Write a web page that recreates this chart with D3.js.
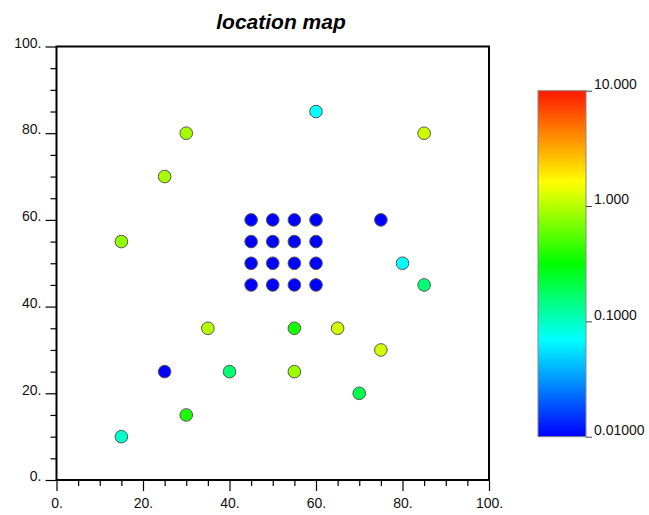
<!DOCTYPE html>
<html><head><meta charset="utf-8">
<script src="https://cdn.jsdelivr.net/npm/d3@7"></script>
<style>body{margin:0;background:#fff}svg{display:block}text{font-family:"Liberation Sans",Arial,sans-serif}</style>
</head><body><svg id="c" width="649" height="515"></svg>
<script>
// data
const xs = [60,30,85,25,15, 45,50,55,60,45,50,55,60,45,50,55,60,45,50,55,60, 75,80,85,35,55,65,75,25,40,55,70,30,15];
const ys = [85,80,80,70,55, 60,60,60,60,55,55,55,55,50,50,50,50,45,45,45,45, 60,50,45,35,35,35,30,25,25,25,20,15,10];
const vals = [0.07,0.9,1.15,0.9,0.8, 0.01,0.01,0.01,0.01,0.01,0.01,0.01,0.01,0.01,0.01,0.01,0.01,0.01,0.01,0.01,0.01,
              0.01,0.07,0.16,1.0,0.36,1.2,1.2,0.01,0.16,0.85,0.2,0.38,0.095];
const axisTicks = [0,20,40,60,80,100];
const axisTickLabels = ["0.","20.","40.","60.","80.","100."];
const minorTicks = [5,10,15,25,30,35,45,50,55,65,70,75,85,90,95];
const cbTicks = [10,1,0.1,0.01];
const cbTickLabels = ["10.000","1.000","0.1000","0.01000"];
const titleText = "location map";

const svg = d3.select("#c");
const x = d3.scaleLinear().domain([0,100]).range([56.5,489]);
const y = d3.scaleLinear().domain([0,100]).range([480,46.5]);
const cScale = d3.scaleLog().domain([0.01,10]).range([436.7,90.7]);
const frac = d3.scaleLog().domain([0.01,10]).range([0,1]);
const ramp = d3.scaleLinear().domain([0,0.28,0.5,0.735,1])
  .range(["#0000ff","#00ffff","#00ff00","#ffff00","#ff1800"]).interpolate(d3.interpolateRgb);
const color = v => ramp(frac(v));

// title
svg.append("text").attr("x",281).attr("y",29).attr("text-anchor","middle")
  .style("font-size","21px").style("font-weight","bold").style("font-style","italic").text(titleText);

// plot frame
svg.append("rect").attr("x",x(0)).attr("y",y(100)).attr("width",x(100)-x(0)).attr("height",y(0)-y(100))
  .attr("fill","none").attr("stroke","#000").attr("stroke-width",2);

// axes
const fmt = d => axisTickLabels[axisTicks.indexOf(d)];
const gx = svg.append("g").attr("transform",`translate(0,${y(0)})`)
  .call(d3.axisBottom(x).tickValues(axisTicks).tickFormat(fmt).tickSize(11).tickPadding(7));
const gxm = svg.append("g").attr("transform",`translate(0,${y(0)})`)
  .call(d3.axisBottom(x).tickValues(minorTicks).tickFormat("").tickSize(6));
const gy = svg.append("g").attr("transform",`translate(${x(0)},0)`)
  .call(d3.axisLeft(y).tickValues(axisTicks).tickFormat(fmt).tickSize(11).tickPadding(4));
const gym = svg.append("g").attr("transform",`translate(${x(0)},0)`)
  .call(d3.axisLeft(y).tickValues(minorTicks).tickFormat("").tickSize(6));
[gx,gxm,gy,gym].forEach(g=>{g.select(".domain").remove();g.selectAll("line").attr("stroke","#000").attr("stroke-width",1.2);});
gx.selectAll("text").style("font-size","14px").attr("fill","#111");
gy.selectAll("text").style("font-size","14px").attr("fill","#111").attr("dy","0.05em");

// points
svg.append("g").selectAll("circle").data(vals).join("circle")
  .attr("cx",(d,i)=>x(xs[i])).attr("cy",(d,i)=>y(ys[i])).attr("r",6.3)
  .attr("fill",d=>color(d)).attr("stroke","#555").attr("stroke-width",1);

// colorbar
const defs = svg.append("defs");
const grad = defs.append("linearGradient").attr("id","cb").attr("x1",0).attr("y1",1).attr("x2",0).attr("y2",0);
d3.range(0,1.0001,0.02).forEach(t=>grad.append("stop").attr("offset",t).attr("stop-color",ramp(t)));
const cbx = 538, cbw = 48;
svg.append("rect").attr("x",cbx).attr("y",cScale(10)).attr("width",cbw).attr("height",cScale(0.01)-cScale(10))
  .attr("fill","url(#cb)").attr("stroke","#888").attr("stroke-width",1);
const gc = svg.append("g").attr("transform",`translate(${cbx+cbw},0)`)
  .call(d3.axisRight(cScale).tickValues(cbTicks).tickFormat(d=>cbTickLabels[cbTicks.indexOf(d)]).tickSize(6).tickPadding(2));
gc.select(".domain").remove();
gc.selectAll("line").attr("stroke","#444");
gc.selectAll("text").style("font-size","14px").attr("fill","#111").attr("dy","-0.15em");
</script></body></html>
